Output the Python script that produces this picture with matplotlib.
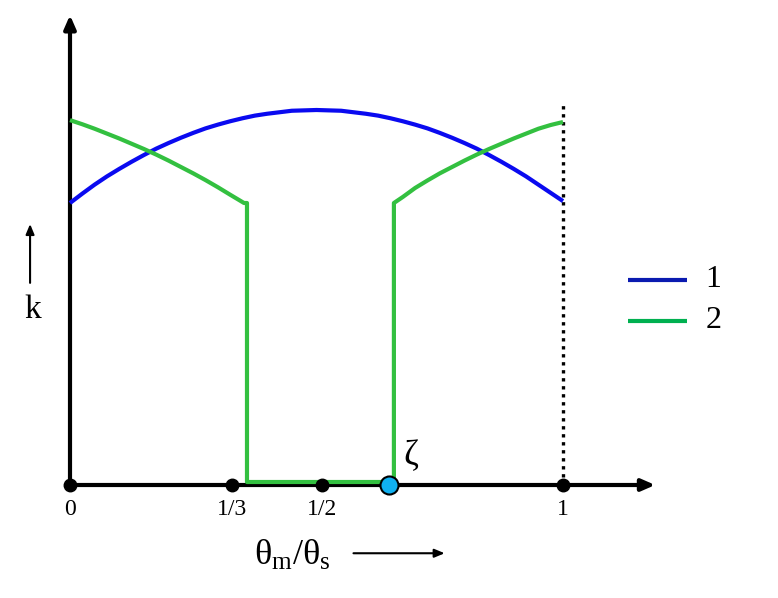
import matplotlib.pyplot as plt

# values (x = theta_m/theta_s, k in units of blue peak)
blue_x = [0.0, 0.025, 0.05, 0.075, 0.1, 0.125, 0.15, 0.175, 0.2, 0.225,
          0.25, 0.275, 0.3, 0.325, 0.35, 0.375, 0.4, 0.425, 0.45, 0.475,
          0.5, 0.525, 0.55, 0.575, 0.6, 0.625, 0.65, 0.675, 0.7, 0.725,
          0.75, 0.775, 0.8, 0.825, 0.85, 0.875, 0.9, 0.925, 0.95, 0.975, 1.0]
blue_k = [0.752, 0.777, 0.801, 0.823, 0.843, 0.862, 0.880, 0.897, 0.912, 0.926,
          0.939, 0.951, 0.961, 0.970, 0.978, 0.985, 0.990, 0.994, 0.998, 0.999,
          1.0, 0.999, 0.998, 0.994, 0.990, 0.985, 0.978, 0.970, 0.961, 0.951,
          0.939, 0.926, 0.912, 0.897, 0.880, 0.862, 0.843, 0.823, 0.801, 0.779,
          0.757]

green_x = [0.0, 0.025, 0.05, 0.075, 0.1, 0.125, 0.15, 0.175, 0.2, 0.225,
           0.25, 0.275, 0.3, 0.325, 0.353, 0.359, 0.359,
           0.651, 0.657, 0.657, 0.675, 0.7, 0.725, 0.75, 0.775, 0.8, 0.825,
           0.85, 0.875, 0.9, 0.925, 0.95, 0.975, 1.0]
green_k = [0.973, 0.962, 0.950, 0.937, 0.924, 0.910, 0.896, 0.881, 0.865, 0.848,
           0.831, 0.813, 0.794, 0.774, 0.752, 0.752, 0.008,
           0.008, 0.008, 0.752, 0.768, 0.792, 0.812, 0.831, 0.848, 0.865, 0.881,
           0.896, 0.910, 0.924, 0.937, 0.950, 0.960, 0.968]

tick_pos = [0.0, 0.329, 0.511, 1.0]
tick_labels = ['0', '1/3', '1/2', '1']
zeta_x = 0.647
legend_labels = ['1', '2']

serif = ['Liberation Serif', 'DejaVu Serif']


def main():
    fig = plt.figure(figsize=(7.78, 5.98), dpi=100)
    ax = fig.add_axes([0, 0, 1, 1])
    ax.set_xlim(-70 / 493, 708 / 493)
    ax.set_ylim(-113 / 375, 485 / 375)
    ax.axis('off')

    # axes with arrows
    ax.annotate('', xy=(1.187, 0), xytext=(-0.004, 0),
                arrowprops=dict(arrowstyle='-|>,head_length=0.8,head_width=0.35',
                                lw=3, color='black', shrinkA=0, shrinkB=0))
    ax.annotate('', xy=(0, 1.253), xytext=(0, 0),
                arrowprops=dict(arrowstyle='-|>,head_length=0.8,head_width=0.35',
                                lw=3, color='black', shrinkA=0, shrinkB=0))

    # dotted line at x = 1
    ax.plot([1, 1], [0, 1.02], color='black', lw=2.4, ls=(0, (1.0, 1.4)),
            zorder=1)

    ax.plot(blue_x, blue_k, color='#0A0AF0', lw=3, solid_capstyle='butt',
            solid_joinstyle='round', zorder=3)
    ax.plot(green_x, green_k, color='#33C040', lw=3, solid_capstyle='butt',
            solid_joinstyle='round', zorder=3)

    # dots on the x axis
    ax.plot(tick_pos, [0] * len(tick_pos), 'o', color='black', ms=9, zorder=4)
    ax.plot([zeta_x], [0], 'o', color='#10B0F0', mec='black', mew=1.5,
            ms=13, zorder=5)
    ax.text(zeta_x + 0.045, 0.075, 'ζ', fontsize=26, family=serif,
            ha='center', va='center')

    for p, lab in zip(tick_pos, tick_labels):
        ax.text(p, -0.065, lab, fontsize=17, family=serif,
                ha='center', va='center')

    ax.text(0.45, -0.19, r'$\mathregular{\theta_m/\theta_s}$', fontsize=26,
            family=serif, ha='center', va='center')
    ax.annotate('', xy=(0.76, -0.182), xytext=(0.575, -0.182),
                arrowprops=dict(arrowstyle='-|>,head_length=0.6,head_width=0.25',
                                lw=1.5, color='black', shrinkA=0, shrinkB=0))

    # k label on the left
    ax.annotate('', xy=(-0.081, 0.696), xytext=(-0.081, 0.539),
                arrowprops=dict(arrowstyle='-|>,head_length=0.6,head_width=0.25',
                                lw=1.5, color='black', shrinkA=0, shrinkB=0))
    ax.text(-0.075, 0.467, 'k', fontsize=24, family=serif,
            ha='center', va='center')

    # hand-made legend
    leg_colors = ['#0A1AB0', '#00B050']
    leg_y = [0.547, 0.438]
    for c, yy, lab in zip(leg_colors, leg_y, legend_labels):
        ax.plot([1.132, 1.251], [yy, yy], color=c, lw=3, solid_capstyle='butt')
        ax.text(1.305, yy, lab, fontsize=23, family=serif,
                ha='center', va='center')

    fig.savefig('out.png', dpi=100)


if __name__ == "__main__":
    main()
